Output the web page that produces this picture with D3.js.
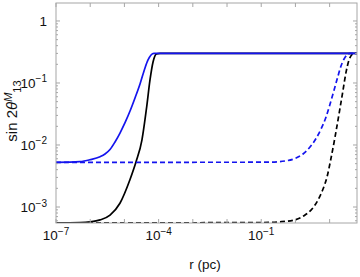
<!DOCTYPE html>
<html>
<head>
<meta charset="utf-8">
<script src="https://cdn.jsdelivr.net/npm/d3@7"></script>
<style>
  body { margin: 0; background: #fff; }
  svg { display: block; font-family: "Liberation Sans", Arial, sans-serif; }
</style>
</head>
<body>
<svg id="chart" width="360" height="277"></svg>
<script>
// ---- data (r in pc, sin 2θ^M_13) ----
const blueSolidR   = [1e-7, 5e-7, 1e-6, 1.94e-6, 2.71e-6, 3.79e-6, 5.31e-6, 7.43e-6, 1.05e-5, 1.46e-5, 2.04e-5, 2.86e-5, 4.0e-5, 4.9e-5, 6.0e-5, 7.3e-5, 63]
const blueSolidV   = [0.00525, 0.0054, 0.0058, 0.00648, 0.00716, 0.00846, 0.0112, 0.0156, 0.0231, 0.0353, 0.0573, 0.0964, 0.175, 0.235, 0.283, 0.3, 0.3]

const blackSolidR  = [1e-7, 5e-7, 1e-6, 1.95e-6, 3.8e-6, 7.4e-6, 1.45e-5, 2.2e-5, 3.25e-5, 4.5e-5, 5.6e-5, 6.9e-5, 8.7e-5, 1.1e-4, 63]
const blackSolidV  = [5.55e-4, 5.6e-4, 5.75e-4, 6.2e-4, 7.4e-4, 0.00115, 0.00275, 0.0054, 0.012, 0.042, 0.112, 0.22, 0.295, 0.3, 0.3]

const blueDashR    = [1e-7, 0.181, 0.497, 0.973, 1.667, 2.67, 4.0, 5.61, 7.85, 10.3, 13.5, 17.6, 21.5, 26.4, 32.3, 39.5, 63]
const blueDashV    = [0.00525, 0.00528, 0.00552, 0.00606, 0.00716, 0.00929, 0.0127, 0.0181, 0.0283, 0.0458, 0.0771, 0.13, 0.188, 0.244, 0.283, 0.3, 0.3]

const blackDashR   = [1e-7, 0.0923, 0.355, 0.973, 1.91, 3.05, 4.58, 6.41, 8.39, 11.0, 14.4, 18.8, 24.7, 30.2, 36.9, 45.2, 51.6, 63]
const blackDashV   = [5.55e-4, 5.6e-4, 5.77e-4, 6.22e-4, 7.43e-4, 9.29e-4, 0.0013, 0.00195, 0.00305, 0.00617, 0.0135, 0.0316, 0.0771, 0.15, 0.235, 0.288, 0.3, 0.3]

const xTickExps    = [-7, -6, -5, -4, -3, -2, -1, 0, 1]
const xLabelExps   = [-7, -4, -1]
const yLabelExps   = [0, -1, -2, -3]

const series = [
  { r: blackDashR,  v: blackDashV,  color: "#000000", dash: "5,3" },
  { r: blackSolidR, v: blackSolidV, color: "#000000", dash: null },
  { r: blueDashR,   v: blueDashV,   color: "#1414ee", dash: "5,3" },
  { r: blueSolidR,  v: blueSolidV,  color: "#1414ee", dash: null }
]

// ---- layout ----
const margin = { top: 3, right: 3, bottom: 54, left: 56 }
const W = 360, H = 277
const width = W - margin.left - margin.right
const height = H - margin.top - margin.bottom
const frameColor = "#a6a6a6"

const svg = d3.select("#chart")
const g = svg.append("g").attr("transform", `translate(${margin.left},${margin.top})`)

const x = d3.scaleLog().domain([1e-7, Math.pow(10, 1.8)]).range([0, width])
const y = d3.scaleLog().domain([Math.pow(10, -3.258), Math.pow(10, 0.29)]).range([height, 0])

g.append("clipPath").attr("id", "clip")
  .append("rect").attr("x", 0).attr("y", -2).attr("width", width).attr("height", height + 2)

// ---- curves ----
const line = d3.line()
  .x(d => x(d[0]))
  .y(d => y(d[1]))
  .curve(d3.curveMonotoneX)

series.forEach(s => {
  const pts = s.r.map((r, i) => [r, s.v[i]])
  g.append("path")
    .attr("clip-path", "url(#clip)")
    .attr("d", line(pts))
    .attr("fill", "none")
    .attr("stroke", s.color)
    .attr("stroke-width", 1.7)
    .attr("stroke-dasharray", s.dash)
})

// ---- frame ----
g.append("rect")
  .attr("x", 0).attr("y", 0).attr("width", width).attr("height", height)
  .attr("fill", "none").attr("stroke", frameColor).attr("stroke-width", 1)

// y ticks, major and minor, left and right, pointing inward
const yTicks = []
for (let e = -4; e <= 0; e++) {
  for (let m = 1; m <= 9; m++) {
    const v = m * Math.pow(10, e)
    if (v >= y.domain()[0] && v <= y.domain()[1]) yTicks.push({ v, major: m === 1 })
  }
}
yTicks.forEach(t => {
  const yy = y(t.v)
  const len = t.major ? 4 : 2
  g.append("line").attr("x1", 0).attr("x2", len).attr("y1", yy).attr("y2", yy)
    .attr("stroke", frameColor)
  g.append("line").attr("x1", width).attr("x2", width - len).attr("y1", yy).attr("y2", yy)
    .attr("stroke", frameColor)
})

// x ticks, decades only, top and bottom
xTickExps.forEach(e => {
  const xx = x(Math.pow(10, e))
  g.append("line").attr("x1", xx).attr("x2", xx).attr("y1", 0).attr("y2", 4).attr("stroke", frameColor)
  g.append("line").attr("x1", xx).attr("x2", xx).attr("y1", height).attr("y2", height - 4).attr("stroke", frameColor)
})

function powLabel(sel, e) {
  if (e === 0) { sel.text("1"); return }
  sel.append("tspan").text("10")
  sel.append("tspan").attr("dy", -5.5).attr("font-size", 10).text("\u2212" + Math.abs(e))
}

xLabelExps.forEach(e => {
  const t = g.append("text")
    .attr("x", x(Math.pow(10, e)))
    .attr("y", height + 17)
    .attr("text-anchor", "middle")
    .attr("font-size", 13.5)
    .attr("fill", "#111")
  powLabel(t, e)
})

yLabelExps.forEach(e => {
  const t = g.append("text")
    .attr("x", -9)
    .attr("y", y(Math.pow(10, e)) + 5)
    .attr("text-anchor", "end")
    .attr("font-size", 13.5)
    .attr("fill", "#111")
  powLabel(t, e)
})

// ---- axis titles ----
svg.append("text")
  .attr("x", 205).attr("y", 269)
  .attr("text-anchor", "middle")
  .attr("font-size", 13.5)
  .attr("fill", "#111")
  .text("r (pc)")

const yt = svg.append("text")
  .attr("transform", "translate(17,111) rotate(-90)")
  .attr("text-anchor", "middle")
  .attr("font-size", 15)
  .attr("fill", "#111")
yt.append("tspan").text("sin 2")
yt.append("tspan").attr("font-style", "italic").text("\u03b8")
yt.append("tspan").attr("dy", -5).attr("font-size", 11).attr("font-style", "italic").text("M")
yt.append("tspan").attr("dy", 9).attr("font-size", 11).text("13")
</script>
</body>
</html>
